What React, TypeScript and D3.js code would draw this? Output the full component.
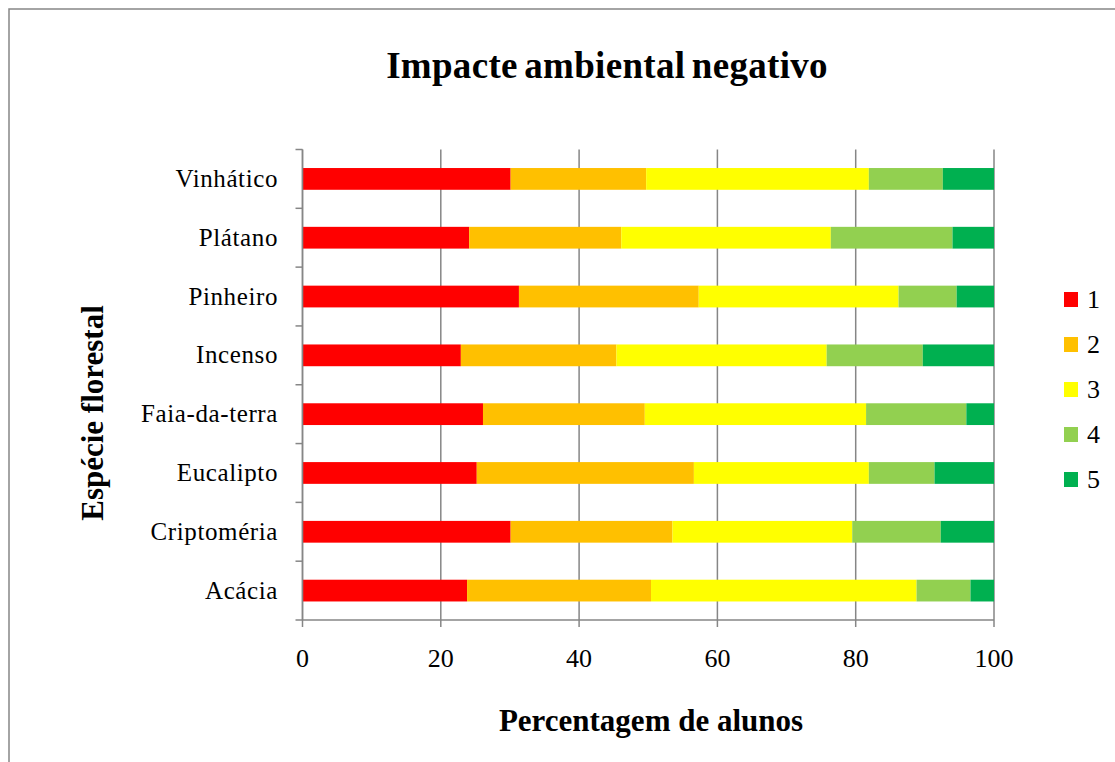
import React from 'react';
import * as d3 from 'd3';

// categories top to bottom
const species = ['Vinhático', 'Plátano', 'Pinheiro', 'Incenso', 'Faia-da-terra', 'Eucalipto', 'Criptoméria', 'Acácia'];
const levels = ['1', '2', '3', '4', '5'];
const colors = ['#FF0000', '#FFC000', '#FFFF00', '#92D050', '#00B050'];

// percentage of students per level (1..5), same order as species
const level1 = [30.1, 24.1, 31.3, 22.9, 26.1, 25.2, 30.1, 23.8];
const level2 = [19.6, 22.0, 26.0, 22.5, 23.4, 31.4, 23.4, 26.6];
const level3 = [32.2, 30.3, 28.9, 30.4, 32.0, 25.3, 26.0, 38.4];
const level4 = [10.7, 17.6, 8.4, 13.9, 14.5, 9.5, 12.8, 7.8];
const level5 = [7.4, 6.0, 5.4, 10.3, 4.0, 8.6, 7.7, 3.4];
const xTicks = [0, 20, 40, 60, 80, 100];

const W = 1115;
const H = 762;
const left = 302.5, right = 994, top = 149.5, bottom = 620;
const font = '"Liberation Serif", "Times New Roman", serif';

const App = () => {
    const rows = species.map((s, i) => ({
        name: s,
        '1': level1[i], '2': level2[i], '3': level3[i], '4': level4[i], '5': level5[i]
    }));
    const stacked = d3.stack<any>().keys(levels)(rows);

    const x = d3.scaleLinear().domain([0, 100]).range([left, right]);
    const y = d3.scaleBand().domain(species).range([top, bottom]).paddingInner(0.63).paddingOuter(0.315);
    const color = d3.scaleOrdinal<string, string>().domain(levels).range(colors);
    const step = y.step();

    return (
        <svg width={W} height={H} style={{ position: 'absolute', left: 0, top: 0, background: '#fff' }} fontFamily={font}>
            <rect x={9} y={9} width={W + 20} height={H + 20} fill="#fff" stroke="#868686" strokeWidth={1.5} />

            <text x={607} y={78} textAnchor="middle" fontSize={37} fontWeight="bold" letterSpacing={0.3} wordSpacing={-3}>Impacte ambiental negativo</text>

            {/* grid lines */}
            {xTicks.map(t => (
                <line key={'g' + t} x1={x(t)} x2={x(t)} y1={top} y2={bottom} stroke="#868686" strokeWidth={1.5} />
            ))}

            {/* bars */}
            {stacked.map(layer => (
                <g key={layer.key} fill={color(layer.key)}>
                    {layer.map((d, i) => (
                        <rect key={i} x={x(d[0])} y={y(species[i])} width={x(d[1]) - x(d[0])} height={y.bandwidth()} />
                    ))}
                </g>
            ))}

            {/* y axis */}
            <line x1={left} x2={left} y1={top} y2={bottom} stroke="#868686" strokeWidth={1.5} />
            {d3.range(species.length + 1).map(i => (
                <line key={'yt' + i} x1={left - 7} x2={left} y1={top + i * step} y2={top + i * step} stroke="#868686" strokeWidth={1.5} />
            ))}
            {species.map(s => (
                <text key={s} x={278} y={(y(s) as number) + y.bandwidth() / 2 + 8} textAnchor="end" fontSize={25} letterSpacing={0.6}>{s}</text>
            ))}

            {/* x axis */}
            <line x1={left} x2={right} y1={bottom} y2={bottom} stroke="#868686" strokeWidth={1.5} />
            {xTicks.map(t => (
                <g key={'xt' + t}>
                    <line x1={x(t)} x2={x(t)} y1={bottom} y2={bottom + 7} stroke="#868686" strokeWidth={1.5} />
                    <text x={x(t)} y={bottom + 47} textAnchor="middle" fontSize={26}>{t}</text>
                </g>
            ))}

            <text x={651} y={731} textAnchor="middle" fontSize={31} fontWeight="bold">Percentagem de alunos</text>
            <text transform={`translate(103,413) rotate(-90)`} textAnchor="middle" fontSize={31} fontWeight="bold">Espécie florestal</text>

            {/* legend */}
            {levels.map((l, i) => (
                <g key={'lg' + l} transform={`translate(1064,${292 + i * 45})`}>
                    <rect x={0} y={0} width={14} height={15} fill={color(l)} />
                    <text x={23} y={16} fontSize={26}>{l}</text>
                </g>
            ))}
        </svg>
    );
};

export default App;
